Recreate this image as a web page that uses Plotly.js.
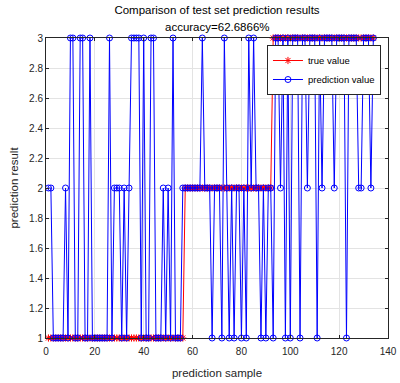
<!DOCTYPE html>
<html>
<head>
<meta charset="utf-8">
<script src="https://cdn.plot.ly/plotly-3.0.1.min.js"></script>
<style>html,body{margin:0;padding:0;background:#fff;}#chart{width:400px;height:383px;}</style>
</head>
<body>
<div id="chart"></div>
<script>
// sample index 1..134
const samples = [];
for (let i = 1; i <= 134; i++) samples.push(i);

// true class of each test sample
const trueVals = [
  1,1,1,1,1,1,1,1,1,1, 1,1,1,1,1,1,1,1,1,1,
  1,1,1,1,1,1,1,1,1,1, 1,1,1,1,1,1,1,1,1,1,
  1,1,1,1,1,1,1,1,1,1, 1,1,1,1,1,1,
  2,2,2,2, 2,2,2,2,2,2,2,2,2,2,
  2,2,2,2,2,2,2,2,2,2, 2,2,2,2,2,2,2,2,2,2,
  2,2,
  3,3,3,3,3,3,3,3,
  3,3,3,3,3,3,3,3,3,3, 3,3,3,3,3,3,3,3,3,3,
  3,3,3,3,3,3,3,3,3,3, 3,3,3,3
];

// predicted class of each test sample
const predVals = [
  2,2,1,1,1,1,1,2,1,3, 3,1,1,3,3,1,1,3,1,1,
  1,1,1,1,1,3,1,2,2,2, 1,2,1,2,3,3,3,3,1,3,
  1,1,3,3,1,1,1,2,1,2, 1,3,1,1,1,2,
  2,2,2,2, 2,2,2,3,2,2,2,1,2,2,
  2,1,3,2,1,2,1,2,2,1, 2,1,3,2,3,2,2,1,2,1,
  2,2,
  1,3,3,2,3,1,3,1,
  3,3,3,1,3,3,2,3,3,3, 1,3,2,3,3,3,3,2,3,3,
  3,3,1,3,3,3,3,2,2,3, 3,3,2,3
];

const accuracyText = 'accuracy=62.6866%';
const xTicks = [0, 20, 40, 60, 80, 100, 120, 140];

const FONT = 'Liberation Sans, Arial, Helvetica, sans-serif';
const TXT = '#262626';

const traces = [
  {
    x: samples, y: trueVals, name: 'true value', type: 'scatter', mode: 'lines+markers',
    line: {color: '#ff0000', width: 1},
    marker: {symbol: 'asterisk-open', size: 6, color: '#ff0000', line: {color: '#ff0000', width: 1}},
    cliponaxis: false
  },
  {
    x: samples, y: predVals, name: 'prediction value', type: 'scatter', mode: 'lines+markers',
    line: {color: '#0000ff', width: 1},
    marker: {symbol: 'circle-open', size: 6, color: '#0000ff', line: {color: '#0000ff', width: 1}},
    cliponaxis: false
  }
];

const axisCommon = {
  showgrid: true, gridcolor: '#e3e3e3', gridwidth: 1,
  showline: true, linecolor: TXT, linewidth: 1, mirror: 'ticks',
  ticks: 'inside', ticklen: 3, tickcolor: TXT, tickwidth: 1,
  zeroline: false,
  tickfont: {family: FONT, size: 10, color: TXT},
  automargin: false
};

const layout = {
  width: 400, height: 383,
  margin: {l: 46, r: 12, t: 38, b: 45, pad: 0},
  paper_bgcolor: '#ffffff', plot_bgcolor: '#ffffff',
  font: {family: FONT, color: TXT},
  showlegend: true,
  title: {
    text: 'Comparison of test set prediction results',
    font: {family: FONT, size: 11.5, color: '#000000'},
    x: 0.5, xref: 'paper', xanchor: 'center',
    y: 1 - 10 / 383, yref: 'container', yanchor: 'middle'
  },
  annotations: [{
    text: accuracyText, showarrow: false,
    xref: 'paper', yref: 'paper', x: 0.5, y: (338 - 27) / 300,
    xanchor: 'center', yanchor: 'middle',
    font: {family: FONT, size: 11.5, color: '#000000'}
  }],
  xaxis: Object.assign({}, axisCommon, {
    range: [0, 140], tickvals: xTicks, ticktext: xTicks.map(String),
    ticklabelstandoff: 4,
    title: {text: 'prediction sample', font: {family: FONT, size: 11.5, color: TXT}, standoff: 12}
  }),
  yaxis: Object.assign({}, axisCommon, {
    range: [1, 3], dtick: 0.2, tick0: 1,
    title: {text: 'prediction result', font: {family: FONT, size: 11.5, color: TXT}, standoff: 8}
  }),
  legend: {
    x: (380 - 46) / 341, xanchor: 'right', xref: 'paper',
    y: (338 - 45) / 300, yanchor: 'top', yref: 'paper',
    bgcolor: '#ffffff', bordercolor: TXT, borderwidth: 1,
    font: {family: FONT, size: 9.5, color: '#000000'},
    tracegroupgap: 0, itemwidth: 30
  }
};

Plotly.newPlot('chart', traces, layout, {displayModeBar: false, staticPlot: true});
</script>
</body>
</html>
